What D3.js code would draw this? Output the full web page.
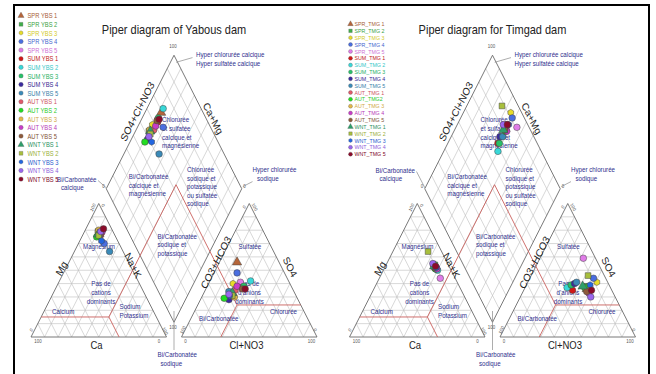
<!DOCTYPE html>
<html><head><meta charset="utf-8">
<script src="https://cdn.jsdelivr.net/npm/d3@7"></script>
<style>html,body{margin:0;padding:0;background:#fff}svg{display:block}</style>
</head><body>
<svg id="chart" width="656" height="374"></svg>
<script>
// ---------- DATA ----------
const ybsNames = ["SPR YBS 1","SPR YBS 2","SPR YBS 3","SPR YBS 4","SPR YBS 5","SUM YBS 1","SUM YBS 2","SUM YBS 3","SUM YBS 4","SUM YBS 5","AUT YBS 1","AUT YBS 2","AUT YBS 3","AUT YBS 4","AUT YBS 5","WNT YBS 1","WNT YBS 2","WNT YBS 3","WNT YBS 4","WNT YBS 5"];
const tmgNames = ["SPR_TMG 1","SPR_TMG 2","SPR_TMG 3","SPR_TMG 4","SPR_TMG 5","SUM_TMG 1","SUM_TMG 2","SUM_TMG 3","SUM_TMG 4","SUM_TMG 5","AUT_TMG 1","AUT_TMG2","AUT_TMG 3","AUT_TMG 4","AUT_TMG 5","WNT_TMG 1","WNT_TMG 2","WNT_TMG 3","WNT_TMG 4","WNT_TMG 5"];
const seriesColors = ["#b5653a","#3fae49","#e6dc2a","#4a6ee0","#e07ce8","#d01818","#38d8d8","#28c068","#3a2a9e","#3a8ab8","#e05a6a","#22dd22","#e2b84a","#c83cc8","#8e5a3a","#2e9e6a","#a8bf3c","#2266e0","#9a66ee","#8c0a2a"];
const seriesShapes = ["triangle","square","hex","circle","circle","circle","circle","circle","circle","circle","circle","circle","circle","circle","circle","triangle","square","hex","circle","circle"];

// Yabous dam (% meq)
const ybsCa   = [11,11,11,11, 8, 9, 9,11,10,10,11,14,10, 8,10,12,12,12, 9, 6];
const ybsMg   = [77,79,79,70,80,78,79,77,78,64,76,75,80,79,78,77,76,72,79,81];
const ybsNaK  = [12,10,10,19,12,13,12,12,12,26,13,11,10,13,12,11,12,16,12,13];
const ybsHCO3 = [31,47,42,35,36,37,28,35,51,48,43,54,46,40,37,46,47,49,49,35];
const ybsSO4  = [56,33,40,48,41,37,42,38,28,34,35,29,30,38,36,33,31,31,32,36];
const ybsCl   = [13,20,18,17,23,26,30,27,21,18,22,17,24,22,27,21,22,20,19,29];

// Timgad dam (% meq)
const tmgCa   = [10,10,11,10,11,11,10,11,11,10,11,11,11,10,11,11,10,10,11,10];
const tmgMg   = [53,54,54,52,44,52,50,51,53,52,52,51,53,51,52,53,64,52,55,53];
const tmgNaK  = [37,36,35,38,45,37,40,38,36,38,37,38,36,39,37,36,26,38,34,37];
const tmgHCO3 = [18,17, 8, 9, 9,29,32,28,25,23,17,19,16,18,19,20,12,14,18,15];
const tmgSO4  = [36,38,41,44,59,35,37,39,40,41,36,37,35,33,34,38,46,39,30,35];
const tmgCl   = [46,45,51,47,32,36,31,33,35,36,47,44,49,49,47,42,42,47,52,50];

const tickLabels = ["0","100"];

// ---------- LAYOUT ----------
const FONT = "'Liberation Sans', Arial, Helvetica, sans-serif";
const W = 135.5, GAPPX = 15, G = GAPPX / W, BASE = 337, HT = 133.5;
const K = HT / (W * Math.sqrt(3) / 2);   // vertical stretch of the original picture
const NAVY = "#30308e", GRID = "#bdbdbd", EDGE = "#6a6a6a", RED = "#c9605c";

const svg = d3.select("#chart");
svg.append("rect").attr("width", 656).attr("height", 374).attr("fill", "#fff");

function addText(g, str, x, y, o) {
  o = o || {};
  return g.append("text")
    .attr("transform", `translate(${x},${y}) scale(1,${K}) rotate(${o.rot || 0})`)
    .attr("text-anchor", o.anchor || "start")
    .attr("dominant-baseline", "central")
    .attr("font-family", FONT)
    .attr("font-size", o.size || 6.2)
    .attr("fill", o.fill || NAVY)
    .text(str);
}
function symPath(shape, r) {
  if (shape === "hex") {
    const pts = d3.range(6).map(k => [r * Math.cos(Math.PI / 3 * k + Math.PI / 6), r * Math.sin(Math.PI / 3 * k + Math.PI / 6)]);
    return "M" + pts.map(p => p.join(",")).join("L") + "Z";
  }
  const type = {circle: d3.symbolCircle, triangle: d3.symbolTriangle, square: d3.symbolSquare}[shape];
  const area = {circle: Math.PI * r * r, triangle: 1.1 * Math.PI * r * r, square: 3.0 * r * r}[shape];
  return d3.symbol().type(type).size(area)();
}

const panels = [
  {x0: 31, title: "Piper diagram of Yabous dam", names: ybsNames,
   Ca: ybsCa, Mg: ybsMg, NaK: ybsNaK, HCO3: ybsHCO3, SO4: ybsSO4, Cl: ybsCl,
   leg: {mx: 21, tx: 27.5, y0: 15.7, dy: 8.6, fs: 5.8, r: 2.2}, bcY: 179},
  {x0: 349.5, title: "Piper diagram for Timgad dam", names: tmgNames,
   Ca: tmgCa, Mg: tmgMg, NaK: tmgNaK, HCO3: tmgHCO3, SO4: tmgSO4, Cl: tmgCl,
   leg: {mx: 350.5, tx: 354.5, y0: 24, dy: 6.85, fs: 5.3, r: 2.0}, bcY: 170}
];

// frame
svg.append("path").attr("d", "M14,374V5H649V374").attr("fill", "none").attr("stroke", "#000").attr("stroke-width", 2);

panels.forEach(p => {
  const g = svg.append("g");
  const xs = d3.scaleLinear().domain([0, 2 + G]).range([p.x0, p.x0 + (2 + G) * W]);
  const ys = d3.scaleLinear().domain([0, 1]).range([BASE, BASE - HT]);
  const line = d3.line().x(d => xs(d[0])).y(d => ys(d[1]));
  const cat = (ca, mg, nk) => [nk + mg / 2, mg];
  const ani = (hc, so, cl) => [1 + G + cl + so / 2, so];
  const dia = (n, c) => [1 + G / 2 + (n - c) / 2, 2 + G - c - n];
  const shift = pts => pts.map(q => [q[0] + 1 + G, q[1]]);

  // grid
  const gl = [];
  for (let i = 1; i < 10; i++) {
    const v = i / 10;
    const tri = [[[v / 2, v], [1 - v / 2, v]], [[v, 0], [v + (1 - v) / 2, 1 - v]], [[1 - v, 0], [(1 - v) / 2, 1 - v]]];
    tri.forEach(s => { gl.push(s); gl.push(shift(s)); });
    gl.push([dia(v, 0), dia(v, 1)]);
    gl.push([dia(0, v), dia(1, v)]);
  }
  g.selectAll(null).data(gl).enter().append("path").attr("d", line)
    .attr("fill", "none").attr("stroke", GRID).attr("stroke-width", 0.6);

  // outlines
  const triO = [[0, 0], [1, 0], [0.5, 1], [0, 0]];
  [triO, shift(triO), [dia(1, 1), dia(0, 1), dia(0, 0), dia(1, 0), dia(1, 1)]].forEach(o =>
    g.append("path").attr("d", line(o)).attr("fill", "none").attr("stroke", EDGE).attr("stroke-width", 0.9));

  // red classification lines
  const P = cat(0.35, 0.15, 0.50), Q = ani(0.47, 0.24, 0.29), apex = dia(0.50, 0.47);
  const red = [
    [cat(0.85, 0.15, 0), P], [P, cat(0.35, 0, 0.65)], [P, apex],
    [Q, ani(0, 0.24, 0.76)], [Q, ani(0.71, 0, 0.29)], [Q, apex]
  ];
  g.selectAll(null).data(red).enter().append("path").attr("d", line)
    .attr("fill", "none").attr("stroke", RED).attr("stroke-width", 0.9);

  const cx = xs(1 + G / 2), ax0 = xs(1 + G), x0 = p.x0;

  // leader lines
  const lead = [
    [[cx + 2.2, 62.3], [cx + 18.5, 57.6]],
    [[cx + 68.8, 186.6], [cx + 78.5, 181.6]],
    [[cx - 76, p.bcY + 1.5], [cx - 67.5, 188]],
    [[cx, 311], [cx, 350]]
  ];
  lead.forEach(l => g.append("path").attr("d", d3.line()(l)).attr("stroke", "#8a8a8a").attr("stroke-width", 0.7).attr("fill", "none"));

  // title
  addText(g, p.title, cx, 29.5, {anchor: "middle", size: 11, fill: "#222"});

  // axis titles
  const ax = {size: 9.5, anchor: "middle", fill: "#1e1e1e"};
  addText(g, "Mg", x0 + 30.5, 268.5, Object.assign({rot: -60}, ax));
  addText(g, "Na+K", x0 + 102, 265.5, Object.assign({rot: 60}, ax));
  addText(g, "Ca", x0 + 65.5, 345.5, ax);
  addText(g, "CO3+HCO3", ax0 + 34.5, 262.5, Object.assign({rot: -60}, ax));
  addText(g, "SO4", ax0 + 108.5, 267, Object.assign({rot: 60}, ax));
  addText(g, "Cl+NO3", ax0 + 65, 345.5, ax);
  addText(g, "SO4+Cl+NO3", cx - 36.5, 111.5, Object.assign({rot: -60}, ax));
  addText(g, "Ca+Mg", cx + 39, 118.5, Object.assign({rot: 60}, ax));

  // tick labels
  const tk = {size: 4.4, fill: "#555", anchor: "middle"};
  const [t0, t100] = tickLabels;
  [[t100, x0 + 7, 341.5, 0], [t0, x0 + 128, 341.5, 0], [t0, x0 + 0.5, 330, -60], [t100, x0 + 134, 331, 60],
   [t100, x0 + 62, 207.5, -60], [t0, x0 + 72, 205.5, 60],
   [t0, ax0 + 4, 341.5, 0], [t100, ax0 + 130, 341.5, 0], [t100, ax0 + 1.5, 330, -60], [t0, ax0 + 133.5, 330, 60],
   [t0, ax0 + 63, 207, -60], [t100, ax0 + 73, 207, 60],
   [t100, cx - 1, 46.5, 0], [t0, cx - 70.5, 186.7, 0], [t0, cx + 70.5, 186.7, 0], [t100, cx - 1, 327, 0]
  ].forEach(t => addText(g, t[0], t[1], t[2], Object.assign({rot: t[3]}, tk)));

  // region labels
  const R = (s, x, y, a) => addText(g, s, x, y, {anchor: a || "start"});
  R("Hyper chlorurée calcique", cx + 22, 54.5); R("Hyper sulfatée calcique", cx + 22, 63);
  ["Chlorurée", "et sulfatée", "calcique et", "magnésienne"].forEach((s, i) => R(s, cx - 12, 119.5 + 8.7 * i));
  ["Bi/Carbonatée", "calcique et", "magnésienne"].forEach((s, i) => R(s, cx - 45.2, 176.7 + 8.5 * i));
  ["Chlorurée", "sodique et", "potassique", "ou sulfatée", "sodique"].forEach((s, i) => R(s, cx + 13, 169.5 + 8.5 * i));
  R("Hyper chlorurée", cx + 78.5, 169.5); R("sodique", cx + 83, 178.3);
  ["Bi/Carbonatée", "sodique et", "potassique"].forEach((s, i) => R(s, cx - 16.5, 236 + 8.5 * i));
  R("Bi/Carbonatée", cx - 16.5, 354); R("sodique", cx - 13.5, 363);
  R("Bi/Carbonatée", cx - 117, p.bcY); R("calcique", cx - 113, p.bcY + 8.8);
  R("Magnésium", x0 + 52, 246);
  ["Pas de", "cations", "dominants"].forEach((s, i) => R(s, x0 + 70, 283 + 9 * i, "middle"));
  R("Calcium", x0 + 21, 311.7);
  R("Sodium", x0 + 88.5, 306.7); R("Potassium", x0 + 88.5, 315.2);
  R("Sulfatée", ax0 + 57, 246.7);
  ["Pas de", "d'anions", "dominants"].forEach((s, i) => R(s, ax0 + 68, 283.5 + 9 * i, "middle"));
  R("Chlorurée", ax0 + 88.4, 311.7);
  R("Bi/Carbonatée", ax0 + 17.5, 318.5);

  // data markers
  const r = 3.3;
  const mk = g.append("g");
  p.names.forEach((name, i) => {
    const n = p.NaK[i] / 100, c = p.HCO3[i] / 100;
    const pts = [cat(p.Ca[i] / 100, p.Mg[i] / 100, n), ani(c, p.SO4[i] / 100, p.Cl[i] / 100), dia(n, c)];
    pts.forEach(q => mk.append("path").attr("d", symPath(seriesShapes[i], r))
      .attr("transform", `translate(${xs(q[0])},${ys(q[1])})`)
      .attr("fill", seriesColors[i]).attr("stroke", "#444").attr("stroke-width", 0.5));
  });

  // legend
  const L = p.leg;
  p.names.forEach((name, i) => {
    const y = L.y0 + L.dy * i;
    g.append("path").attr("d", symPath(seriesShapes[i], L.r)).attr("transform", `translate(${L.mx},${y})`)
      .attr("fill", seriesColors[i]).attr("stroke", "#555").attr("stroke-width", 0.3);
    addText(g, name, L.tx, y, {size: L.fs, fill: d3.color(seriesColors[i]).darker(0.25).formatHex()});
  });
});
</script>
</body></html>
